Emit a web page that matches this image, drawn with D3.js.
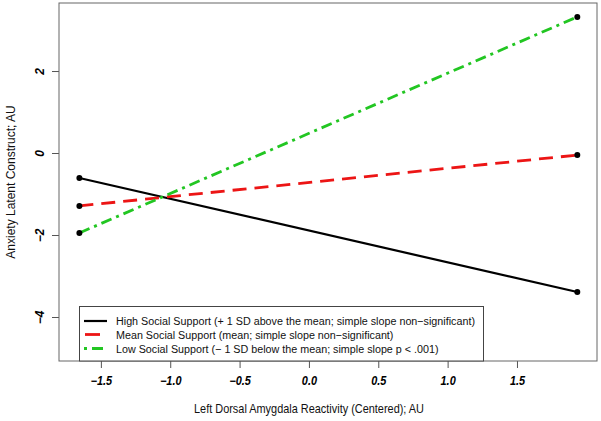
<!DOCTYPE html>
<html><head><meta charset="utf-8">
<script src="https://cdn.jsdelivr.net/npm/d3@7"></script>
<style>body{margin:0;background:#fff}svg{display:block}text{font-family:"Liberation Sans",Arial,sans-serif}</style>
</head><body>
<svg id="c" width="601" height="421"></svg>
<script>
const xEnds = [-1.655, 1.935];
const highSupport = [-0.61, -3.39];
const meanSupport = [-1.29, -0.05];
const lowSupport = [-1.95, 3.32];
const xTicks = [-1.5, -1.0, -0.5, 0.0, 0.5, 1.0, 1.5];
const yTicks = [-4, -2, 0, 2];
const legendLabels = [
  "High Social Support (+ 1 SD above the mean; simple slope non\u2212significant)",
  "Mean Social Support (mean; simple slope non\u2212significant)",
  "Low Social Support (\u2212 1 SD below the mean; simple slope p < .001)"
];
const xTitle = "Left Dorsal Amygdala Reactivity (Centered); AU";
const yTitle = "Anxiety Latent Construct; AU";

const svg = d3.select("#c");
const L = 59, R = 597, T = 3, B = 361;
const SX = 0.91; // horizontal squeeze of the reference image
const x = d3.scaleLinear().domain([-1.802, 2.077]).range([L, R]);
const y = d3.scaleLinear().domain([-5.073, 3.659]).range([B, T]);

const series = [
  {vals: highSupport, color: "#000000", w: 2.2, dash: null, off: 0},
  {vals: meanSupport, color: "#ec1515", w: 2.8, dash: "14,8", off: -1},
  {vals: lowSupport, color: "#22c622", w: 2.8, dash: "11,5,3,5", off: 16}
];

const fmt = d => (d < 0 ? "\u2212" : "") + Math.abs(d).toFixed(1);
const fmtY = d => (d < 0 ? "\u2212" : "") + Math.abs(d);
const tickStyle = sel => sel.attr("fill", "#000").style("font-size", "12px")
  .style("font-weight", "bold").style("font-style", "italic");

// axes
const xa = svg.append("g").attr("transform", `translate(0,${B})`)
  .call(d3.axisBottom(x).tickValues(xTicks).tickFormat(fmt).tickSize(7).tickPadding(8));
const ya = svg.append("g").attr("transform", `translate(${L},0)`)
  .call(d3.axisLeft(y).tickValues(yTicks).tickFormat(fmtY).tickSize(7).tickPadding(9));
[xa, ya].forEach(a => {
  a.select(".domain").remove();
  a.selectAll("line").attr("stroke", "#555");
  tickStyle(a.selectAll("text"));
});
xa.selectAll("text").attr("transform", `scale(${SX},1)`).attr("x", 0);
ya.selectAll("text").attr("text-anchor", "middle").attr("x", 0).attr("y", 0).attr("dy", "0.35em")
  .attr("transform", "translate(-19,0) rotate(-90)");

// frame
svg.append("rect").attr("x", L).attr("y", T).attr("width", R - L).attr("height", B - T)
  .attr("fill", "none").attr("stroke", "#666").attr("stroke-width", 1);

// lines
series.forEach(s => {
  const pts = xEnds.map((xv, i) => [xv, s.vals[i]]);
  svg.append("path").datum(pts)
    .attr("d", d3.line().x(d => x(d[0])).y(d => y(d[1])))
    .attr("fill", "none").attr("stroke", s.color).attr("stroke-width", s.w)
    .attr("stroke-dasharray", s.dash);
});
series.forEach(s => {
  xEnds.forEach((xv, i) => {
    svg.append("circle").attr("cx", x(xv)).attr("cy", y(s.vals[i])).attr("r", 3).attr("fill", "#000");
  });
});

// legend
const lg = svg.append("g");
lg.append("rect").attr("x", 79.5).attr("y", 306.5).attr("width", 404).attr("height", B - 306.5)
  .attr("fill", "#fff").attr("stroke", "#444").attr("stroke-width", 1);
const rowsY = [321, 334.5, 348.5];
legendLabels.forEach((t, i) => {
  const s = series[i];
  lg.append("line").attr("x1", 84).attr("x2", 107).attr("y1", rowsY[i]).attr("y2", rowsY[i])
    .attr("stroke", s.color).attr("stroke-width", s.w)
    .attr("stroke-dasharray", i === 1 ? "15,10" : s.dash)
    .attr("stroke-dashoffset", s.off);
  lg.append("text").attr("transform", `translate(116,${rowsY[i]}) scale(0.935,1)`).attr("dy", "0.35em")
    .style("font-size", "11.5px").attr("fill", "#111").text(t);
});

// titles
svg.append("text").attr("transform", `translate(309,413) scale(${SX},1)`).attr("text-anchor", "middle")
  .style("font-size", "12px").attr("fill", "#111").text(xTitle);
svg.append("text").attr("transform", `translate(15,${(T + B) / 2}) rotate(-90)`).attr("text-anchor", "middle")
  .style("font-size", "12px").attr("fill", "#111").text(yTitle);
</script>
</body></html>
